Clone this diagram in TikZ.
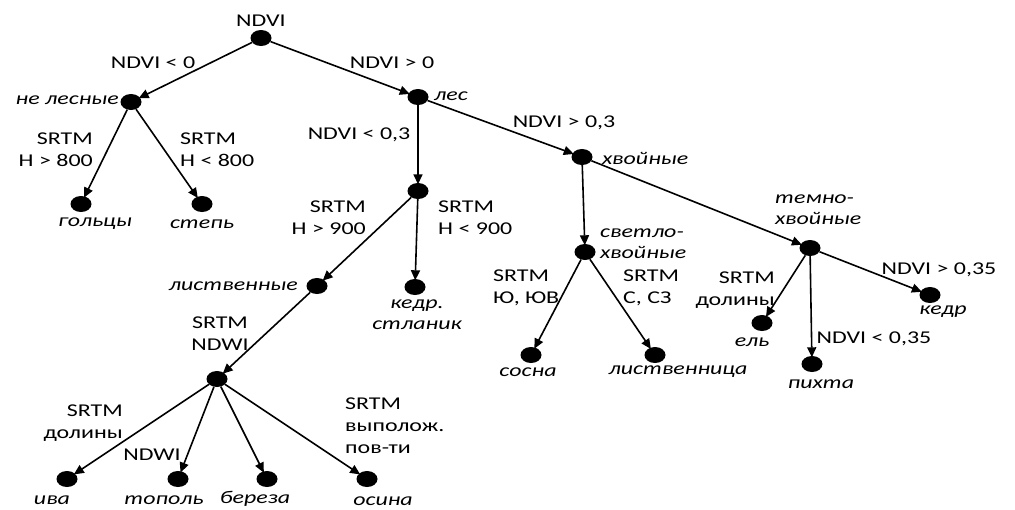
\documentclass[tikz,border=0pt]{standalone}
\usepackage{fontspec}
\setmainfont[FakeStretch=1.33]{Carlito}
\usetikzlibrary{arrows.meta,shapes.geometric}
\begin{document}
\begin{tikzpicture}[x=1pt,y=-1pt,
  dot/.style={ellipse, fill=black, minimum width=21pt, minimum height=16pt, inner sep=0pt},
  lab/.style={font=\fontsize{18}{22}\selectfont, inner sep=0pt},
  cls/.style={font=\fontsize{18}{21}\selectfont\itshape, inner sep=0pt},
  link/.style={draw, line width=1.6pt, -{Triangle[length=10pt,width=9pt]}, shorten >=-1.5pt},
]
\useasboundingbox[fill=white] (0,0) rectangle (1015,509);

% decision nodes
\node[dot] (root) at (261,38) {};
\node[dot] (nonforest) at (131,102) {};
\node[dot] (forest) at (418,97) {};
\node[dot] (golcy) at (81,204) {};
\node[dot] (step) at (202,204) {};
\node[dot] (low) at (418,191) {};
\node[dot] (decid) at (317,286) {};
\node[dot] (stlanik) at (415,287) {};
\node[dot] (ndwi) at (217,379) {};
\node[dot] (iva) at (67,479) {};
\node[dot] (topol) at (178,479) {};
\node[dot] (bereza) at (267,479) {};
\node[dot] (osina) at (367,479) {};
\node[dot] (conif) at (582,157) {};
\node[dot] (light) at (585,252) {};
\node[dot] (sosna) at (531,355) {};
\node[dot] (larch) at (655,355) {};
\node[dot] (dark) at (810,248) {};
\node[dot] (el) at (762,323) {};
\node[dot] (pihta) at (812,364) {};
\node[dot] (kedr) at (930,295) {};

% class names
\node[lab] (tRoot) at (261,21) {NDVI};
\node[cls, anchor=east] (tNonforest) at (119,100) {не лесные};
\node[cls, anchor=west] (tForest) at (434,96) {лес};
\node[cls] (tGolcy) at (95,224) {гольцы};
\node[cls] (tStep) at (202,224) {степь};
\node[cls, anchor=east] (tDecid) at (298,286) {лиственные};
\node[cls, align=center] (tStlanik) at (417,315) {кедр.\\стланик};
\node[cls] (tIva) at (52,500) {ива};
\node[cls] (tTopol) at (164,500) {тополь};
\node[cls] (tBereza) at (255,499) {береза};
\node[cls] (tOsina) at (383,501) {осина};
\node[cls, anchor=west] (tConif) at (602,158) {хвойные};
\node[cls, anchor=west, align=left] (tLight) at (600,244) {светло-\\хвойные};
\node[cls] (tSosna) at (528,372) {сосна};
\node[cls] (tLarch) at (678,372) {лиственница};
\node[cls, anchor=west, align=left] (tDark) at (775,210) {темно-\\хвойные};
\node[cls] (tEl) at (752,342) {ель};
\node[cls] (tPihta) at (821,384) {пихта};
\node[cls] (tKedr) at (943,312) {кедр};

% branch conditions
\node[lab] (cNeg) at (153,63) {NDVI < 0};
\node[lab] (cPos) at (392,63) {NDVI > 0};
\node[lab, anchor=east, align=right] (cHigh800) at (93,150) {SRTM\\H > 800};
\node[lab, anchor=west, align=left] (cLow800) at (180,150) {SRTM\\H < 800};
\node[lab] (cLow03) at (359,135) {NDVI < 0,3};
\node[lab] (cHigh03) at (564,123) {NDVI > 0,3};
\node[lab, anchor=east, align=right] (cHigh900) at (366,218) {SRTM\\H > 900};
\node[lab, anchor=west, align=left] (cLow900) at (438,218) {SRTM\\H < 900};
\node[lab, align=center] (cSrtmNdwi) at (220,334) {SRTM\\NDWI};
\node[lab, anchor=east, align=right] (cValley) at (123,423) {SRTM\\долины};
\node[lab] (cNdwi) at (152,455) {NDWI};
\node[lab, anchor=west, align=left] (cFlat) at (345,426) {SRTM\\выполож.\\пов-ти};
\node[lab, anchor=west, align=left] (cSouth) at (493,288) {SRTM\\Ю, ЮВ};
\node[lab, anchor=west, align=left] (cNorth) at (623,288) {SRTM\\С, СЗ};
\node[lab, anchor=east, align=right] (cValley2) at (775,290) {SRTM\\долины};
\node[lab] (cHigh035) at (939,270) {NDVI > 0,35};
\node[lab] (cLow035) at (874,339) {NDVI < 0,35};

% branches
\draw[link] (root) -- (nonforest);
\draw[link] (root) -- (forest);
\draw[link] (nonforest) -- (golcy);
\draw[link] (nonforest) -- (step);
\draw[link] (forest) -- (low);
\draw[link] (forest) -- (conif);
\draw[link] (low) -- (decid);
\draw[link] (low) -- (stlanik);
\draw[link] (decid) -- (ndwi);
\draw[link] (ndwi) -- (iva);
\draw[link] (ndwi) -- (topol);
\draw[link] (ndwi) -- (bereza);
\draw[link] (ndwi) -- (osina);
\draw[link] (conif) -- (light);
\draw[link] (conif) -- (dark);
\draw[link] (light) -- (sosna);
\draw[link] (light) -- (larch);
\draw[link] (dark) -- (el);
\draw[link] (dark) -- (pihta);
\draw[link] (dark) -- (kedr);
\end{tikzpicture}
\end{document}
